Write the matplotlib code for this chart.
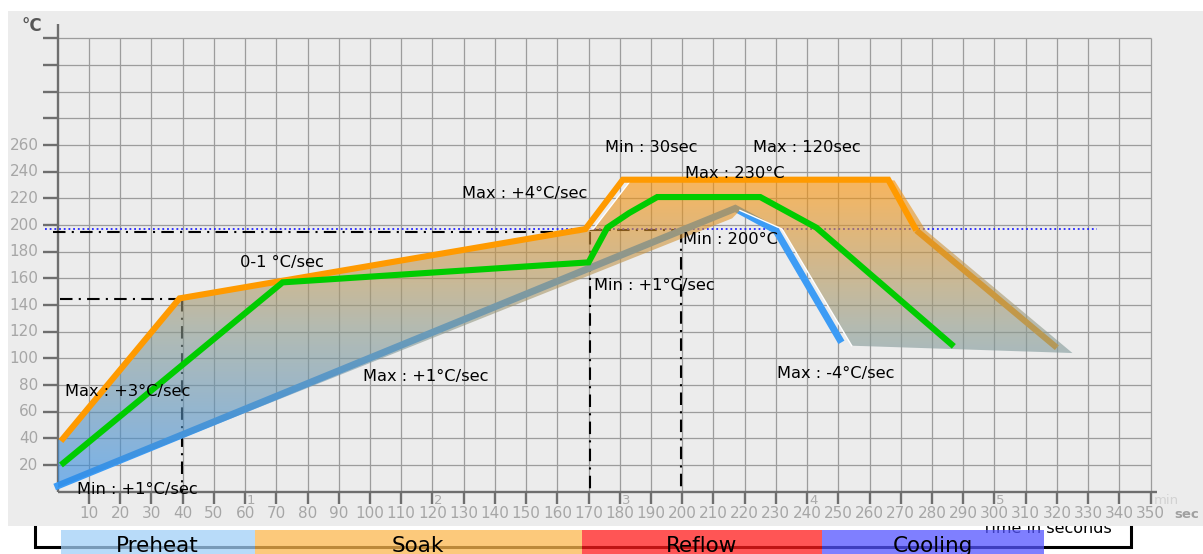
import matplotlib
matplotlib.use("Agg")
import matplotlib.pyplot as plt
import numpy as np
from matplotlib.patches import Rectangle, Polygon
from matplotlib.colors import LinearSegmentedColormap

plt.rcParams['font.family'] = ['DejaVu Sans']

# ---------------- data ----------------
max_t = [1, 39, 169, 181, 266, 275, 320]
max_T = [38, 145, 197, 234, 234, 196, 108]
typ_t = [1, 72, 170, 176, 183, 192, 225, 243, 287]
typ_T = [20, 157, 172, 198, 209, 221, 221, 198, 109]
min_t = [-1, 217, 230, 251]
min_T = [3.5, 212.5, 196, 112]
env_t = [0, 0, 39, 169, 171.5, 183.5, 268, 278, 325, 254.3, 232, 218.5, 216]
env_T = [3, 38, 145, 197, 197, 233.5, 233.5, 196, 104, 109.5, 197, 211, 205]
phases = ['Preheat', 'Soak', 'Reflow', 'Cooling']
phase_edges = [0.9, 63.1, 167.8, 244.8, 315.9]
phase_colors = ['#a1cff7', '#fcb84f', '#ff1c1c', '#5454ff']
x_ticks = list(range(10, 360, 10))
y_ticks = list(range(20, 341, 20))
y_labels = [str(v) if v <= 260 else '' for v in y_ticks]
minute_marks = [60, 120, 180, 240, 300]
minute_labels = ['1', '2', '3', '4', '5']
liquidus = 197.3
preheat_end_t, preheat_end_T = 39.7, 144.5
soak_end_t, soak_end_T = 170.5, 194.8
reflow_min_t, reflow_min_T = 199.5, 196.5

annotations = [
    ("Max : +3°C/sec", 2.3, 75.5),
    ("Min : +1°C/sec", 6.0, 2.0),
    ("0-1 °C/sec", 58.4, 172),
    ("Max : +1°C/sec", 97.9, 86.3),
    ("Max : +4°C/sec", 129.4, 223.8),
    ("Min : 30sec", 175.3, 258.3),
    ("Max : 120sec", 222.8, 258.3),
    ("Max : 230°C", 200.9, 238.3),
    ("Min : 200°C", 200.3, 189.5),
    ("Min : +1°C/sec", 171.7, 154.5),
    ("Max : -4°C/sec", 230.4, 88.8),
]

# ---------------- layout mapping (pixels -> data) ----------------
W, H = 1203, 554
SX, X0 = 3.122, 57.8
SY, Y0 = 1.3333, 491.7
def tx(px):
    return (px - X0) / SX
def ty(py):
    return (Y0 - py) / SY

fig = plt.figure(figsize=(W / 100, H / 100), dpi=100)
fig.patch.set_facecolor('white')
ax = fig.add_axes([0, 0, 1, 1])
ax.axis('off')

# "Time in seconds" partially hidden behind panel
ax.text(tx(981.7), ty(533), 'Time in seconds', fontsize=11.5, ha='left',
        va='baseline', color='black', zorder=0.5)

# background panel
ax.add_patch(Rectangle((tx(7.5), ty(526)), tx(W + 5) - tx(7.5), ty(11) - ty(526),
                       facecolor='#ececec', edgecolor='none', zorder=0.8))

# grid
ax.vlines(x_ticks, 0, 340, colors='#9c9c9c', lw=0.9, zorder=1)
ax.hlines(y_ticks, 0, 350, colors='#9c9c9c', lw=0.9, zorder=1)

# axes lines
ax.plot([0, 0], [0, ty(24)], color='#6e6e6e', lw=1.7, zorder=2, solid_capstyle='butt')
ax.plot([0, 352], [0, 0], color='#6e6e6e', lw=1.7, zorder=2, solid_capstyle='butt')
# y ticks
ax.hlines(y_ticks, tx(42.5), 0, colors='#6e6e6e', lw=1.7, zorder=2)
for v, lab in zip(y_ticks, y_labels):
    if lab:
        ax.text(tx(38.5), v, lab, ha='right', va='center', fontsize=11,
                color='#a6a6a6', zorder=2)
# x ticks
ax.vlines(x_ticks, ty(504), 0, colors='#6e6e6e', lw=1.7, zorder=2)
for v in x_ticks:
    ax.text(v, ty(513), str(v), ha='center', va='center', fontsize=11,
            color='#a6a6a6', zorder=2)
for v, lab in zip(minute_marks, minute_labels):
    ax.text(v + 0.6, ty(500), lab, ha='left', va='center', fontsize=9.5,
            color='#aaaaaa', zorder=2)
ax.text(tx(1154), ty(501), 'min', ha='left', va='center', fontsize=9.5,
        color='#d2d2d2', zorder=2)
ax.text(tx(1174), ty(515), 'sec', ha='left', va='center', fontsize=9.5,
        color='#a0a0a0', fontweight='bold', zorder=2)
ax.text(tx(32), ty(26), '°C', ha='center', va='center', fontsize=12,
        color='#555555', fontweight='bold', zorder=2)

# reference lines
dd = (0, (6, 3, 1, 3))
kw = dict(color='black', lw=1.5, ls=dd, zorder=2)
ax.plot([tx(60), preheat_end_t - 1.5], [preheat_end_T, preheat_end_T], **kw)
ax.plot([preheat_end_t, preheat_end_t], [preheat_end_T, 0], **kw)
ax.plot([tx(53), soak_end_t - 1.5], [soak_end_T, soak_end_T], **kw)
ax.plot([soak_end_t, soak_end_t], [soak_end_T, 0], **kw)
ax.plot([soak_end_t, reflow_min_t], [reflow_min_T, reflow_min_T], **kw)
ax.plot([reflow_min_t, reflow_min_t], [reflow_min_T, 0], **kw)
ax.plot([tx(45), tx(1097)], [liquidus, liquidus], color='#2424ff', lw=1.3,
        ls=(0, (1, 1.6)), zorder=2)

# curves under the envelope
ax.plot(min_t, min_T, color='#3d9cf5', lw=5, zorder=2.5,
        solid_capstyle='butt', solid_joinstyle='miter')
ax.plot(max_t[-2:], max_T[-2:], color='#ff9a00', lw=4.4, zorder=2.5,
        solid_capstyle='butt', solid_joinstyle='miter')

# gradient envelope
poly = Polygon(list(zip(env_t, env_T)), closed=True, facecolor='none',
               edgecolor='none', transform=ax.transData)
ax.add_patch(poly)
cmap = LinearSegmentedColormap.from_list('env', ['#2a8ae8', '#8a9a90', '#ff9100'])
grad = np.linspace(0, 1, 256).reshape(-1, 1)
im = ax.imshow(grad, extent=[min(env_t), max(env_t), min(env_T), max(env_T)],
               origin='lower', aspect='auto', cmap=cmap, alpha=0.6, zorder=3,
               interpolation='bilinear')
im.set_clip_path(poly)

# white envelope edges
ax.plot(env_t[3:6], env_T[3:6], color='white', lw=1.0, zorder=3.4)
ax.plot(env_t[9:12], env_T[9:12], color='white', lw=1.0, zorder=3.4)

# curves on top
ax.plot(max_t[:-1], max_T[:-1], color='#ff9a00', lw=4.4, zorder=4,
        solid_capstyle='butt', solid_joinstyle='miter')
ax.plot(typ_t, typ_T, color='#00cc00', lw=4.4, zorder=4.2,
        solid_capstyle='butt', solid_joinstyle='miter')

for s, x, y in annotations:
    ax.text(x, y, s, ha='left', va='center', fontsize=11.7, color='black', zorder=5)

# phase bracket and bars
ax.plot([tx(35), tx(35), tx(1130.5), tx(1130.5)],
        [ty(527), ty(547), ty(547), ty(527)], color='black', lw=2.2,
        zorder=1, solid_joinstyle='miter')
for i, name in enumerate(phases):
    a, b = phase_edges[i], phase_edges[i + 1]
    ax.add_patch(Rectangle((a, ty(H + 5)), b - a, ty(529.5) - ty(H + 5),
                           facecolor=phase_colors[i], edgecolor='none',
                           alpha=0.75, zorder=1.5))
    ax.text((a + b) / 2, ty(552), name, ha='center', va='baseline',
            fontsize=15.5, color='black', zorder=1.6)

ax.set_xlim(tx(0), tx(W))
ax.set_ylim(ty(H), ty(0))

fig.savefig('out.png', dpi=100, facecolor='white')
